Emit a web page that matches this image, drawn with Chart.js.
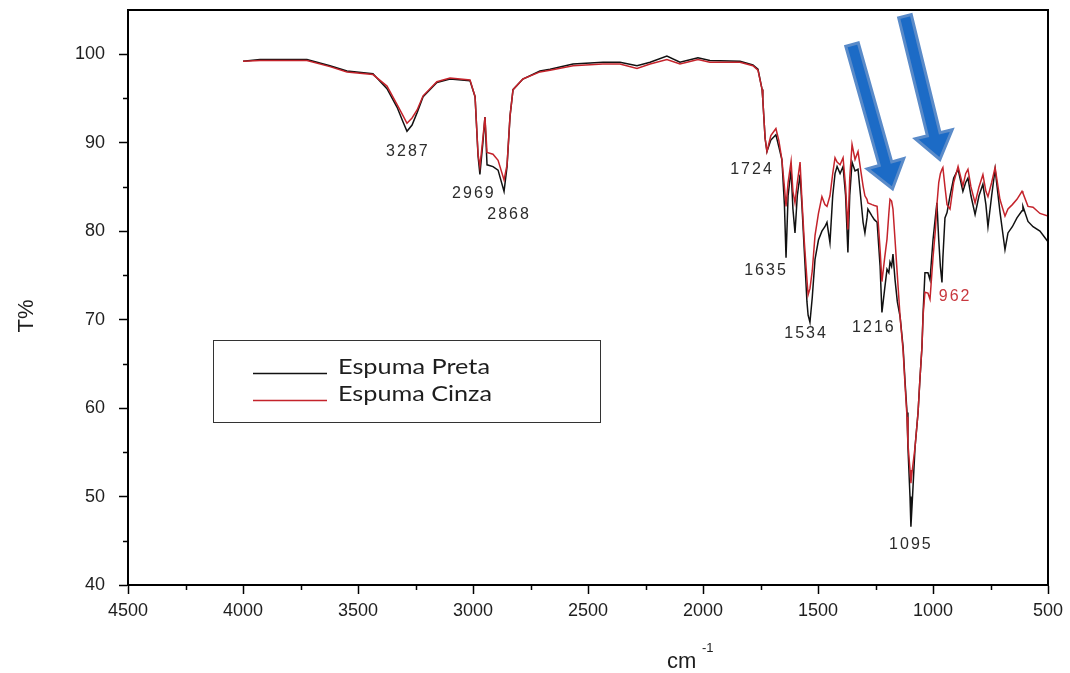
<!DOCTYPE html>
<html>
<head>
<meta charset="utf-8">
<script src="https://cdn.jsdelivr.net/npm/chart.js@4.4.1/dist/chart.umd.min.js"></script>
<style>
  body { margin: 0; background: #fff; }
  canvas { display: block; }
</style>
</head>
<body>
<canvas id="ftir" width="1070" height="673"></canvas>
<script>
// espectro FTIR (cm-1, T%)
const wavenumbers = [
  4000, 3926, 3722, 3622, 3548, 3435, 3374, 3330, 3305, 3287, 3265, 3243, 3217, 3157, 3100, 3013,
  2991, 2978, 2970, 2957, 2948, 2939, 2913, 2891, 2865, 2852, 2839, 2826, 2783, 2709, 2665, 2565,
  2435, 2361, 2287, 2230, 2157, 2100, 2022, 1970, 1839, 1783, 1761, 1743, 1740, 1730, 1722, 1705,
  1683, 1670, 1657, 1646, 1639, 1630, 1617, 1609, 1600, 1590, 1578, 1570, 1560, 1548, 1543, 1535,
  1525, 1513, 1498, 1483, 1470, 1461, 1448, 1436, 1426, 1417, 1404, 1391, 1380, 1370, 1362, 1352,
  1339, 1326, 1315, 1304, 1296, 1287, 1283, 1265, 1255, 1243, 1230, 1222, 1210, 1200, 1192, 1187,
  1180, 1174, 1165, 1155, 1143, 1130, 1122, 1113, 1109, 1100, 1096, 1090, 1078, 1065, 1057, 1048,
  1043, 1035, 1022, 1013, 1000, 990, 983, 975, 968, 961, 957, 948, 939, 926, 910, 891,
  870, 858, 848, 835, 817, 800, 783, 770, 761, 745, 730, 709, 687, 674, 655, 635,
  613, 609, 587, 565, 535, 500
];
const espumaPreta = [
  99.2, 99.4, 99.4, 98.7, 98.1, 97.8, 96.1, 94.0, 92.4, 91.3, 92.0, 93.4, 95.2, 96.8, 97.2, 97.0,
  95.2, 88.5, 86.4, 90.0, 92.9, 87.5, 87.3, 86.9, 84.5, 87.3, 93.0, 96.0, 97.2, 98.1, 98.3, 98.9,
  99.1, 99.1, 98.7, 99.1, 99.8, 99.1, 99.6, 99.3, 99.2, 98.8, 98.3, 96.0, 94.9, 90.5, 89.0, 90.3,
  90.9, 89.5, 88.1, 83.0, 77.0, 84.0, 87.0, 82.5, 79.8, 84.0, 86.4, 83.0, 78.0, 72.0, 70.5, 69.7,
  72.5, 76.8, 79.0, 80.0, 80.5, 81.0, 78.7, 84.0, 86.5, 87.3, 86.5, 87.3, 84.0, 77.6, 84.0, 87.8,
  86.8, 87.0, 84.0, 81.0, 79.8, 81.5, 82.5, 81.7, 81.3, 81.0, 76.0, 70.8, 73.5, 75.7, 75.3, 76.5,
  76.0, 77.4, 74.5, 72.0, 70.3, 66.9, 63.2, 59.5, 55.6, 50.0, 46.6, 49.5, 55.6, 59.5, 63.2, 66.9,
  70.8, 75.3, 75.3, 74.5, 79.0, 81.5, 83.2, 79.0, 76.0, 74.2, 77.0, 81.5, 82.1, 84.0, 86.0, 87.0,
  84.5, 85.5, 86.0, 84.0, 81.9, 84.0, 85.3, 83.0, 80.5, 84.0, 87.0, 82.2, 77.9, 79.8, 80.5, 81.5,
  82.3, 82.8, 81.1, 80.5, 80.0, 78.8
];
const espumaCinza = [
  99.2, 99.3, 99.3, 98.6, 98.0, 97.7, 96.4, 94.3, 93.1, 92.2, 92.8, 93.7, 95.3, 96.9, 97.3, 97.1,
  95.2, 88.7, 87.3, 90.5, 92.9, 88.9, 88.7, 88.0, 85.8, 87.5, 93.0, 96.0, 97.2, 98.0, 98.2, 98.7,
  98.9, 98.9, 98.4, 98.9, 99.4, 98.9, 99.4, 99.1, 99.1, 98.7, 98.2, 96.0, 94.9, 90.5, 89.0, 90.8,
  91.6, 90.2, 88.1, 85.0, 82.8, 85.5, 87.9, 84.5, 83.2, 85.5, 87.8, 83.6, 79.0, 74.5, 72.8, 73.5,
  75.5, 79.5, 82.0, 83.9, 83.0, 82.8, 84.0, 86.5, 88.3, 87.8, 87.5, 88.3, 85.0, 80.2, 86.0, 89.8,
  88.1, 89.0, 87.0, 85.1, 84.0, 83.6, 83.2, 83.0, 82.9, 82.8, 77.9, 74.3, 77.0, 79.1, 82.0, 83.6,
  83.4, 82.5, 79.0, 75.0, 70.3, 66.5, 62.8, 59.0, 56.0, 53.0, 51.5, 53.0, 55.6, 59.5, 63.2, 66.9,
  70.5, 73.1, 73.0, 72.3, 77.0, 80.0, 83.0, 85.5, 86.5, 87.0, 87.2, 85.0, 83.0, 82.5, 85.5, 87.3,
  85.1, 86.5, 87.0, 85.0, 83.2, 85.0, 86.4, 84.5, 83.9, 85.5, 87.2, 83.6, 81.7, 82.5, 83.0, 83.6,
  84.5, 84.3, 82.8, 82.7, 82.0, 81.7
];
const seriesNames = ['Espuma Preta', 'Espuma Cinza'];
const xTicks = [4500, 4000, 3500, 3000, 2500, 2000, 1500, 1000, 500];
const yTicks = [40, 50, 60, 70, 80, 90, 100];

// rótulos dos picos (texto, posição em cm-1 e T%)
const peakText = ['3287', '2969', '2868', '1724', '1635', '1534', '1216', '962', '1095'];
const peakAtX = [3283, 2996, 2843, 1787, 1726, 1552, 1257, 904, 1096];
const peakAtY = [89.0, 84.2, 81.9, 87.0, 75.5, 68.4, 69.1, 72.6, 44.6];

// setas azuis: cauda -> ponta
const arrowTail = [[1352, 101.1], [1122, 104.3]];
const arrowTip = [[1176, 84.8], [970, 88.1]];

const BLACK = '#111111';
const RED = '#c4232b';

function drawArrow(ctx, x1, y1, x2, y2) {
  const len = Math.hypot(x2 - x1, y2 - y1);
  const ux = (x2 - x1) / len, uy = (y2 - y1) / len;
  const px = -uy, py = ux;
  const sw = 6.5, hw = 19, hl = 26;
  const bx = x2 - ux * hl, by = y2 - uy * hl;
  ctx.beginPath();
  ctx.moveTo(x1 + px * sw, y1 + py * sw);
  ctx.lineTo(bx + px * sw, by + py * sw);
  ctx.lineTo(bx + px * hw, by + py * hw);
  ctx.lineTo(x2, y2);
  ctx.lineTo(bx - px * hw, by - py * hw);
  ctx.lineTo(bx - px * sw, by - py * sw);
  ctx.lineTo(x1 - px * sw, y1 - py * sw);
  ctx.closePath();
  ctx.fillStyle = '#1c6bc6';
  ctx.fill();
  ctx.strokeStyle = '#5a8bc9';
  ctx.lineWidth = 3;
  ctx.lineJoin = 'miter';
  ctx.stroke();
}

const extras = {
  id: 'extras',
  afterDatasetsDraw(chart) {
    const { ctx, chartArea: a, scales: { x, y } } = chart;
    ctx.save();

    // moldura superior e direita
    ctx.strokeStyle = '#000';
    ctx.lineWidth = 2;
    ctx.beginPath();
    ctx.moveTo(a.left, a.top);
    ctx.lineTo(a.right, a.top);
    ctx.lineTo(a.right, a.bottom);
    ctx.stroke();

    // ticks menores
    ctx.lineWidth = 1.5;
    ctx.beginPath();
    for (let v = 45; v < 100; v += 10) {
      const py = Math.round(y.getPixelForValue(v)) + 0.5;
      ctx.moveTo(a.left - 5, py);
      ctx.lineTo(a.left, py);
    }
    for (let v = 4250; v > 500; v -= 500) {
      const px = Math.round(x.getPixelForValue(v)) + 0.5;
      ctx.moveTo(px, a.bottom);
      ctx.lineTo(px, a.bottom + 5);
    }
    ctx.stroke();

    // rótulos dos picos
    ctx.font = '16px "Liberation Sans", Arial, sans-serif';
    ctx.letterSpacing = '2px';
    ctx.textAlign = 'center';
    ctx.textBaseline = 'middle';
    peakText.forEach((t, i) => {
      ctx.fillStyle = t === '962' ? '#c8383e' : '#2b2b2b';
      ctx.fillText(t, x.getPixelForValue(peakAtX[i]), y.getPixelForValue(peakAtY[i]));
    });
    ctx.letterSpacing = '0px';

    // setas
    arrowTail.forEach((t, i) => {
      drawArrow(ctx, x.getPixelForValue(t[0]), y.getPixelForValue(t[1]),
        x.getPixelForValue(arrowTip[i][0]), y.getPixelForValue(arrowTip[i][1]));
    });

    // legenda
    ctx.strokeStyle = '#333';
    ctx.lineWidth = 1;
    ctx.strokeRect(213.5, 340.5, 387, 82);
    const colors = [BLACK, RED];
    const rows = [373, 400];
    ctx.textAlign = 'left';
    ctx.textBaseline = 'middle';
    ctx.font = '21px Lato, "Open Sans", sans-serif';
    seriesNames.forEach((name, i) => {
      ctx.strokeStyle = colors[i];
      ctx.lineWidth = 1.3;
      ctx.beginPath();
      ctx.moveTo(253, rows[i] + 0.5);
      ctx.lineTo(327, rows[i] + 0.5);
      ctx.stroke();
      ctx.fillStyle = '#1e1e1e';
      const w = ctx.measureText(name).width;
      const target = i === 0 ? 152 : 154;
      ctx.save();
      ctx.translate(338, rows[i] - 6);
      ctx.scale(target / w, 1);
      ctx.fillText(name, 0, 0);
      ctx.restore();
    });

    // títulos dos eixos
    ctx.fillStyle = '#1e1e1e';
    ctx.font = '22px "Liberation Sans", Arial, sans-serif';
    ctx.save();
    ctx.translate(27, 316);
    ctx.rotate(-Math.PI / 2);
    ctx.textAlign = 'center';
    ctx.fillText('T%', 0, 0);
    ctx.restore();
    ctx.textAlign = 'left';
    ctx.fillText('cm', 667, 662);
    ctx.font = '13px "Liberation Sans", Arial, sans-serif';
    ctx.fillText('-1', 702, 648);

    ctx.restore();
  }
};

const tickFont = { family: '"Liberation Sans", Arial, sans-serif', size: 18 };

new Chart(document.getElementById('ftir'), {
  type: 'line',
  data: {
    datasets: [
      {
        label: seriesNames[0],
        data: wavenumbers.map((w, i) => ({ x: w, y: espumaPreta[i] })),
        borderColor: BLACK,
        borderWidth: 1.5,
        pointRadius: 0,
        tension: 0,
        order: 2
      },
      {
        label: seriesNames[1],
        data: wavenumbers.map((w, i) => ({ x: w, y: espumaCinza[i] })),
        borderColor: RED,
        borderWidth: 1.5,
        pointRadius: 0,
        tension: 0,
        order: 1
      }
    ]
  },
  options: {
    responsive: false,
    animation: false,
    layout: { padding: { left: 0, top: 10, right: 22, bottom: 0 } },
    plugins: { legend: { display: false }, tooltip: { enabled: false } },
    scales: {
      x: {
        type: 'linear',
        reverse: true,
        min: 500,
        max: 4500,
        afterBuildTicks: s => { s.ticks = xTicks.map(v => ({ value: v })); },
        afterFit: s => { s.height = 88; s.paddingLeft = 0; s.paddingRight = 0; },
        ticks: { color: '#1e1e1e', font: tickFont, padding: 6, maxRotation: 0, callback: v => String(v) },
        grid: { drawOnChartArea: false, tickLength: 9, tickWidth: 1.5, color: '#000' },
        border: { color: '#000', width: 2 }
      },
      y: {
        min: 40,
        max: 105,
        afterBuildTicks: s => { s.ticks = yTicks.map(v => ({ value: v })); },
        afterFit: s => { s.width = 128; s.paddingTop = 0; s.paddingBottom = 0; },
        ticks: { color: '#1e1e1e', font: tickFont, padding: 14, callback: v => String(v) },
        grid: { drawOnChartArea: false, tickLength: 9, tickWidth: 1.5, color: '#000' },
        border: { color: '#000', width: 2 }
      }
    }
  },
  plugins: [extras]
});
</script>
</body>
</html>
